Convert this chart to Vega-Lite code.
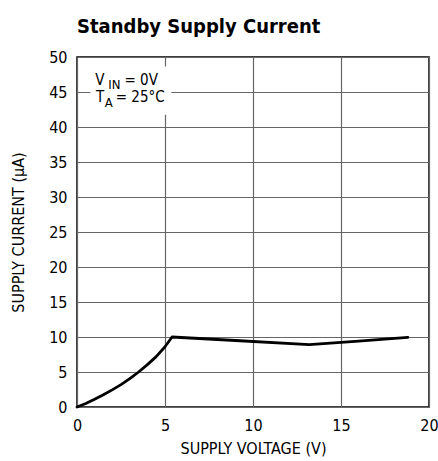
{
  "$schema": "https://vega.github.io/schema/vega-lite/v6.json",
  "autosize": {"type": "none"},
  "padding": {"left": 77, "top": 57, "right": 9, "bottom": 54},
  "width": 352,
  "height": 350,
  "background": "white",
  "title": {
    "text": "Standby Supply Current",
    "anchor": "start",
    "frame": "group",
    "font": "DejaVu Sans Condensed",
    "fontWeight": "bold",
    "fontSize": 20,
    "color": "black",
    "offset": 12
  },
  "config": {
    "view": {"stroke": "black", "strokeWidth": 1.5},
    "axis": {
      "labelFont": "DejaVu Sans Condensed",
      "labelFontSize": 16,
      "labelColor": "black",
      "titleFont": "DejaVu Sans Condensed",
      "titleFontSize": 16,
      "titleFontWeight": "normal",
      "titleColor": "black",
      "ticks": false,
      "tickSize": 0,
      "domain": false,
      "grid": true,
      "gridColor": "#666666",
      "gridWidth": 1.2,
      "labelOverlap": false,
      "labelFlush": false
    }
  },
  "datasets": {
    "curve": [
      {"v": 0, "i": 0},
      {"v": 0.5, "i": 0.5},
      {"v": 1, "i": 1.1},
      {"v": 1.5, "i": 1.75},
      {"v": 2, "i": 2.45},
      {"v": 2.5, "i": 3.2},
      {"v": 3, "i": 4.05},
      {"v": 3.5, "i": 5},
      {"v": 4, "i": 6.05},
      {"v": 4.5, "i": 7.2},
      {"v": 5, "i": 8.6},
      {"v": 5.4, "i": 10},
      {"v": 9, "i": 9.5},
      {"v": 13.2, "i": 8.9},
      {"v": 16, "i": 9.4},
      {"v": 18.8, "i": 9.95}
    ],
    "box": [{"x1": 0.76, "x2": 5.36, "y1": 41.76, "y2": 48.66}],
    "main": [
      {"x": 1.04, "y": 46.04, "t": "V"},
      {"x": 2.7, "y": 46.04, "t": "= 0V"},
      {"x": 1.08, "y": 43.51, "t": "T"},
      {"x": 2.2, "y": 43.51, "t": "= 25°C"}
    ],
    "sub": [
      {"x": 1.78, "y": 45.43, "t": "IN"},
      {"x": 1.57, "y": 42.86, "t": "A"}
    ]
  },
  "layer": [
    {
      "data": {"name": "box"},
      "mark": {"type": "rect", "fill": "white", "stroke": null},
      "encoding": {
        "x": {"field": "x1", "type": "quantitative", "scale": {"domain": [0, 20], "nice": false},
              "axis": {"values": [0, 5, 10, 15, 20], "title": "SUPPLY VOLTAGE (V)", "labelPadding": 10, "titlePadding": 7}},
        "x2": {"field": "x2"},
        "y": {"field": "y1", "type": "quantitative", "scale": {"domain": [0, 50], "nice": false},
              "axis": {"values": [0, 5, 10, 15, 20, 25, 30, 35, 40, 45, 50], "title": "SUPPLY CURRENT (μA)", "labelPadding": 10, "titlePadding": 22}},
        "y2": {"field": "y2"}
      }
    },
    {
      "data": {"name": "curve"},
      "mark": {"type": "line", "color": "black", "strokeWidth": 2.8, "strokeJoin": "round", "strokeCap": "round"},
      "encoding": {
        "x": {"field": "v", "type": "quantitative",
              "axis": {"values": [0, 5, 10, 15, 20], "title": "SUPPLY VOLTAGE (V)", "labelPadding": 10, "titlePadding": 7}},
        "y": {"field": "i", "type": "quantitative",
              "axis": {"values": [0, 5, 10, 15, 20, 25, 30, 35, 40, 45, 50], "title": "SUPPLY CURRENT (μA)", "labelPadding": 10, "titlePadding": 22}}
      }
    },
    {
      "data": {"name": "main"},
      "mark": {"type": "text", "align": "left", "baseline": "alphabetic", "font": "DejaVu Sans Condensed", "fontSize": 15, "color": "black"},
      "encoding": {
        "x": {"field": "x", "type": "quantitative",
              "axis": {"values": [0, 5, 10, 15, 20], "title": "SUPPLY VOLTAGE (V)", "labelPadding": 10, "titlePadding": 7}},
        "y": {"field": "y", "type": "quantitative",
              "axis": {"values": [0, 5, 10, 15, 20, 25, 30, 35, 40, 45, 50], "title": "SUPPLY CURRENT (μA)", "labelPadding": 10, "titlePadding": 22}},
        "text": {"field": "t"}
      }
    },
    {
      "data": {"name": "sub"},
      "mark": {"type": "text", "align": "left", "baseline": "alphabetic", "font": "DejaVu Sans Condensed", "fontSize": 13, "color": "black"},
      "encoding": {
        "x": {"field": "x", "type": "quantitative",
              "axis": {"values": [0, 5, 10, 15, 20], "title": "SUPPLY VOLTAGE (V)", "labelPadding": 10, "titlePadding": 7}},
        "y": {"field": "y", "type": "quantitative",
              "axis": {"values": [0, 5, 10, 15, 20, 25, 30, 35, 40, 45, 50], "title": "SUPPLY CURRENT (μA)", "labelPadding": 10, "titlePadding": 22}},
        "text": {"field": "t"}
      }
    }
  ]
}
